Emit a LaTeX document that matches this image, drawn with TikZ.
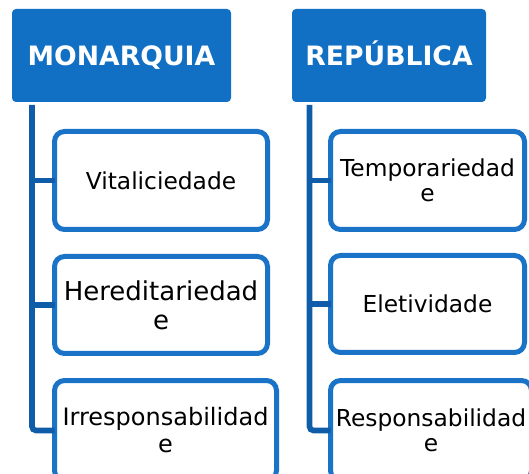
\documentclass[tikz,border=0pt]{standalone}
\usepackage{fontspec}
\setmainfont{DejaVu Sans}
\definecolor{hdrblue}{HTML}{1170C4}
\definecolor{boxblue}{HTML}{1A73C7}
\definecolor{linkblue}{HTML}{0F5DA8}
\begin{document}
\begin{tikzpicture}[x=0.75pt,y=-0.75pt,
  hdr/.style={rectangle, rounded corners=3pt, fill=hdrblue, draw=none, inner sep=0pt, outer sep=0pt,
    minimum height=69.75pt, text height=14.6pt, text depth=0pt, text=white,
    font=\bfseries\fontsize{20pt}{24pt}\selectfont},
  item/.style={rectangle, rounded corners=7.5pt, fill=white, draw=boxblue, line width=3.75pt,
    inner sep=0pt, outer sep=0pt, align=center, text=black,
    font=\fontsize{17.5pt}{18.75pt}\selectfont},
  trunk/.style={draw=linkblue, line width=4.2pt, line cap=butt}
]
\useasboundingbox (0,0) rectangle (529,474);
\clip (0,0) rectangle (529,474);

\node[hdr, minimum width=164.25pt] (hm) at (121.5,55.5) {MONARQUIA};
\node[hdr, minimum width=145.5pt] (hr) at (389,55.5) {REPÚBLICA};

\node[item, minimum width=159.75pt, minimum height=73.5pt] (c1) at (161,180.5) {Vitaliciedade};
\node[item, minimum width=159.75pt, minimum height=72.75pt,
  font=\fontsize{19.5pt}{21.75pt}\selectfont] (c2) at (161,305) {Hereditariedad\\e};
\node[item, minimum width=166.5pt, minimum height=75pt,
  font=\fontsize{18pt}{20.25pt}\selectfont] (c3) at (165.5,430.5) {Irresponsabilidad\\e};

\node[item, minimum width=145.5pt, minimum height=73.5pt] (r1) at (427.5,180.5) {Temporariedad\\e};
\node[item, minimum width=145.5pt, minimum height=72.75pt] (r2) at (427.5,304) {Eletividade};
\node[item, minimum width=150.75pt, minimum height=75pt] (r3) at (431,430.5) {Responsabilidad\\e};

\coordinate (lt) at (32,105);
\coordinate (rt) at (309.5,105);

\draw[trunk] (lt |- c1.west) -- (c1.west);
\draw[trunk] (lt |- c2.west) -- (c2.west);
\draw[trunk, rounded corners=3pt] (lt) |- (c3.west);

\draw[trunk] (rt |- r1.west) -- (r1.west);
\draw[trunk] (rt |- r2.west) -- (r2.west);
\draw[trunk, rounded corners=3pt] (rt) |- (r3.west);
\end{tikzpicture}
\end{document}
